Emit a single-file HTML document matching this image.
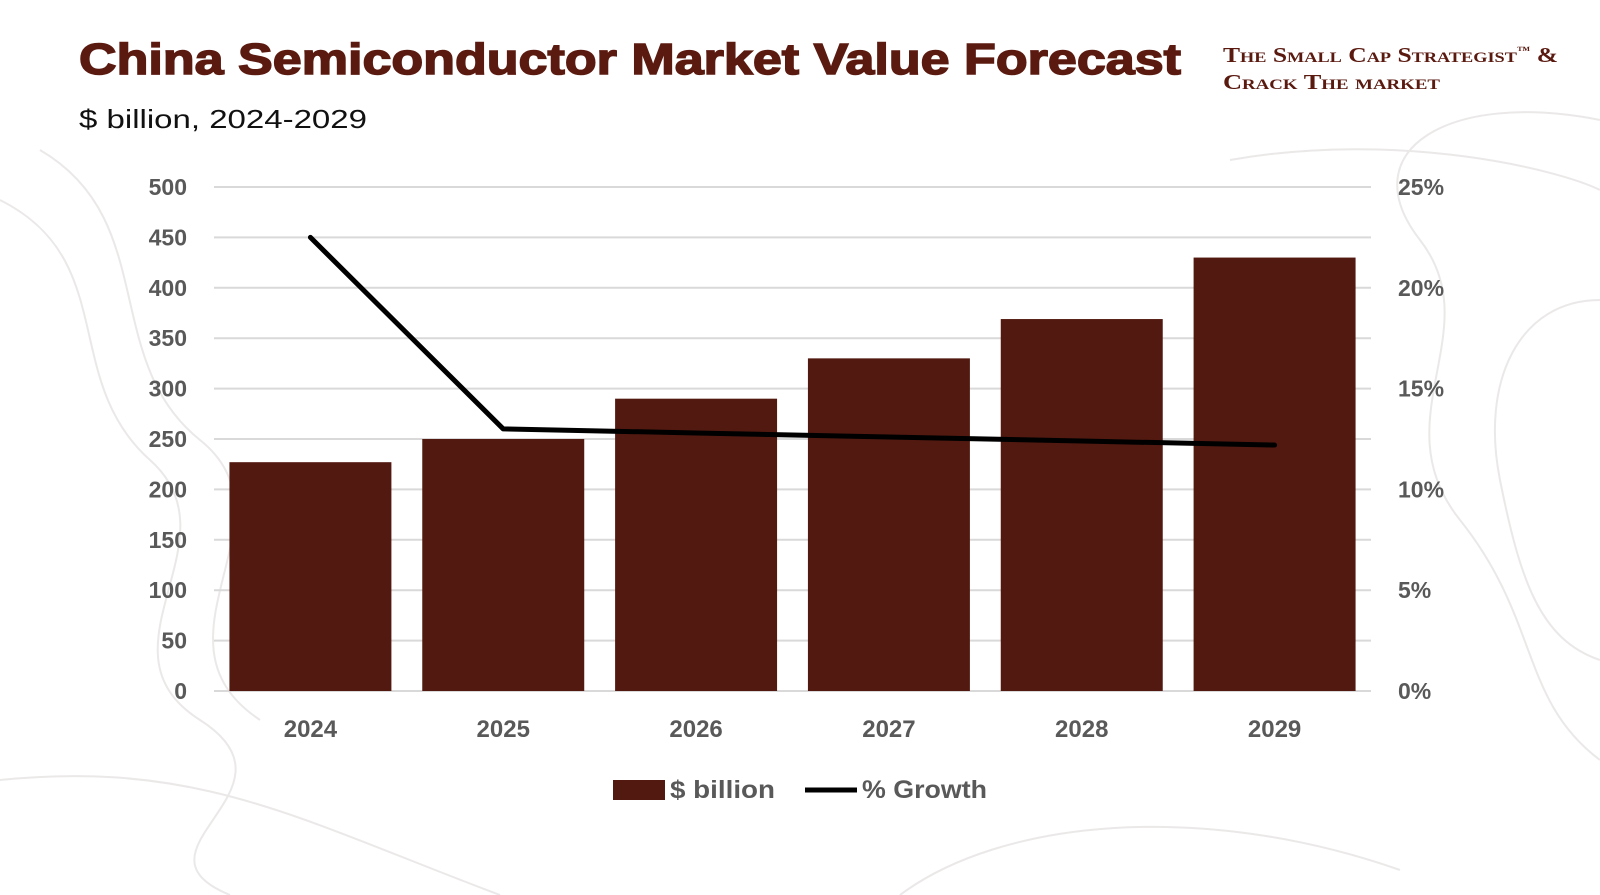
<!DOCTYPE html>
<html><head><meta charset="utf-8"><style>
html,body{margin:0;padding:0;background:#fff;}
svg{display:block;font-family:"Liberation Sans",sans-serif;}
</style></head><body>
<svg id="chart" width="1600" height="895" viewBox="0 0 1600 895">
<g fill="none" stroke="#ebe8e8" stroke-width="2">
<path d="M0 200 C120 260 60 380 150 460 S 90 650 200 720 S 120 850 230 895"/>
<path d="M40 150 C160 220 100 360 200 440 S 140 640 260 720"/>
<path d="M1600 120 C1450 90 1350 150 1420 240 S 1380 420 1460 520 S 1520 700 1600 760"/>
<path d="M1600 300 C1520 300 1480 380 1500 480 S 1540 640 1600 660"/>
<path d="M1230 160 C1400 130 1560 170 1600 190"/>
<path d="M0 780 C200 760 300 820 500 895"/>
<path d="M900 895 C1000 820 1200 800 1400 870"/>
</g>
<text x="79" y="74" font-size="44" font-weight="bold" fill="#5a1a10" stroke="#5a1a10" stroke-width="1.5" textLength="1102" lengthAdjust="spacingAndGlyphs">China Semiconductor Market Value Forecast</text>
<text x="79" y="128" font-size="26" fill="#111" textLength="288" lengthAdjust="spacingAndGlyphs">$ billion, 2024-2029</text>
<g font-family="'Liberation Serif',serif" fill="#5a1a10" font-weight="bold" font-size="21" style="font-variant:small-caps">
<text x="1223" y="62" textLength="335" lengthAdjust="spacingAndGlyphs">The Small Cap Strategist<tspan font-size="11" dy="-8">™</tspan><tspan dy="8"> &amp;</tspan></text>
<text x="1223" y="89" textLength="217" lengthAdjust="spacingAndGlyphs">Crack The market</text>
</g>
<g id="grid"></g>
<g id="bars"></g>
<g id="line"></g>
<g id="yl"></g>
<g id="yr"></g>
<g id="xl"></g>
<g>
<rect x="613" y="780" width="52" height="20" fill="#521910"/>
<text x="670" y="798" font-size="25" font-weight="bold" fill="#595959" textLength="105" lengthAdjust="spacingAndGlyphs">$ billion</text>
<line x1="805" y1="790" x2="857" y2="790" stroke="#000" stroke-width="5"/>
<text x="862" y="798" font-size="25" font-weight="bold" fill="#595959" textLength="125" lengthAdjust="spacingAndGlyphs">% Growth</text>
</g>
</svg>
<script>
const categories=["2024","2025","2026","2027","2028","2029"];
const billionValues=[227,250,290,330,369,430];
const growthValues=[22.5,13.0,12.8,12.6,12.4,12.2];
const leftTicks=[0,50,100,150,200,250,300,350,400,450,500];
const rightTicks=[0,5,10,15,20,25];

const NS="http://www.w3.org/2000/svg";
const L=214,R=1371,B=691,T=187;
const yL=v=>B-(v/500)*(B-T);
const yR=v=>B-(v/25)*(B-T);
const band=(R-L)/categories.length;
const xC=i=>L+band*(i+0.5);
function mk(tag,attrs,parent){const e=document.createElementNS(NS,tag);for(const k in attrs)e.setAttribute(k,attrs[k]);parent.appendChild(e);return e;}
const grid=document.getElementById('grid'),bars=document.getElementById('bars'),line=document.getElementById('line');
const yl=document.getElementById('yl'),yr=document.getElementById('yr'),xl=document.getElementById('xl');
leftTicks.forEach(v=>{
  const g=mk('line',{x1:L,x2:R,y1:yL(v),y2:yL(v),stroke:'#d9d9d9','stroke-width':2},grid);
  
  
  const t=mk('text',{x:187,y:yL(v)+8,'text-anchor':'end','font-size':23,'font-weight':'bold',fill:'#595959'},yl);
  t.textContent=v;
  
  
});
rightTicks.forEach(v=>{
  const t=mk('text',{x:1398,y:yR(v)+8,'font-size':23,'font-weight':'bold',fill:'#595959'},yr);
  t.textContent=v+'%';
  
  
});
const bw=band*0.84;
categories.forEach((c,i)=>{
  const r=mk('rect',{x:xC(i)-bw/2,y:yL(billionValues[i]),width:bw,height:B-yL(billionValues[i]),fill:'#521910'},bars);
  
  
  const t=mk('text',{x:xC(i),y:737,'text-anchor':'middle','font-size':24,'font-weight':'bold',fill:'#595959'},xl);
  t.textContent=c;
  
  
});
const pts=growthValues.map((v,i)=>xC(i)+','+yR(v)).join(' ');
const pl=mk('polyline',{points:pts,fill:'none',stroke:'#000','stroke-width':5,'stroke-linejoin':'round','stroke-linecap':'round'},line);


</script>
</body></html>
